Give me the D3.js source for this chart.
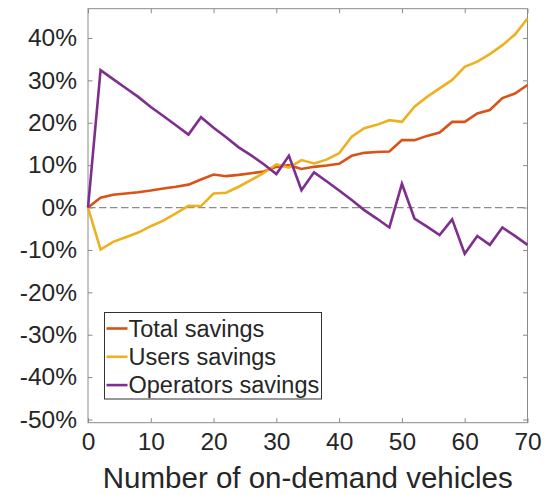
<!DOCTYPE html>
<html>
<head>
<meta charset="utf-8">
<script src="https://cdn.jsdelivr.net/npm/d3@7"></script>
<style>
  html, body { margin: 0; padding: 0; background: #fff; }
  svg { display: block; }
  text { font-family: "Liberation Sans", Arial, Helvetica, sans-serif; fill: #262626; }
</style>
</head>
<body>
<svg id="chart" width="545" height="495"></svg>
<script>
// Fleet size (number of on-demand vehicles)
const vehicles = [0, 2, 4, 6, 8, 10, 12, 14, 16, 18, 20, 22, 24, 26, 28, 30, 32, 34,
                  36, 38, 40, 42, 44, 46, 48, 50, 52, 54, 56, 58, 60, 62, 64, 66, 68, 70];

// Savings in percent
const totalSavings = [0, 2.3, 3.0, 3.3, 3.6, 4.0, 4.5, 4.9, 5.4, 6.6, 7.8, 7.4, 7.7, 8.1, 8.5, 9.6,
                      10.0, 9.1, 9.6, 9.9, 10.3, 12.2, 12.9, 13.1, 13.2, 15.9, 15.9, 16.9, 17.7, 20.2,
                      20.2, 22.2, 23.0, 25.8, 26.9, 28.9];
const usersSavings = [0, -9.9, -8.1, -7.0, -5.9, -4.4, -3.1, -1.4, 0.4, 0.35, 3.3, 3.5, 4.9, 6.5, 8.2,
                      10.2, 9.4, 11.2, 10.4, 11.3, 12.8, 16.7, 18.7, 19.5, 20.6, 20.2, 23.8, 26.1,
                      28.1, 30.1, 33.2, 34.4, 36.2, 38.3, 40.8, 44.6];
const operatorsSavings = [0, 32.4, 30.3, 28.2, 26.1, 23.7, 21.6, 19.4, 17.2, 21.3, 18.8, 16.6, 14.2,
                          12.3, 10.2, 7.9, 12.2, 4.1, 8.3, 6.2, 4.0, 1.8, -0.6, -2.6, -4.7, 5.6,
                          -2.6, -4.5, -6.5, -2.8, -10.9, -6.7, -8.8, -4.7, -6.7, -8.8];

const seriesNames = ["Total savings", "Users savings", "Operators savings"];
const seriesColors = ["#D95319", "#EDB120", "#7E2F8E"];
const seriesValues = [totalSavings, usersSavings, operatorsSavings];

const xTicks = [0, 10, 20, 30, 40, 50, 60, 70];
const yTicks = [-50, -40, -30, -20, -10, 0, 10, 20, 30, 40];
const xTitle = "Number of on-demand vehicles";

const svg = d3.select("#chart");
const plot = { left: 88, right: 527.5, top: 8.7, bottom: 422.7 };

const x = d3.scaleLinear().domain([0, 70]).range([plot.left, plot.right]);
const y = d3.scaleLinear().domain([-50.75, 46.9]).range([plot.bottom, plot.top]);

const axisColor = "#8a8a8a";
const tickLen = 4.5;
const tickFont = 24.5;

// Frame with inward ticks on all four sides
function styleAxis(g) {
  g.select(".domain").remove();
  g.selectAll(".tick line").attr("stroke", axisColor).attr("stroke-width", 1);
}

svg.append("g")
  .attr("transform", `translate(0,${plot.bottom})`)
  .call(d3.axisBottom(x).tickValues(xTicks).tickSizeInner(-tickLen).tickSizeOuter(0).tickPadding(10))
  .call(styleAxis)
  .call(g => g.selectAll(".tick text")
    .attr("font-size", tickFont).attr("fill", "#262626")
    .attr("font-family", "Liberation Sans, Arial, sans-serif"));

svg.append("g")
  .attr("transform", `translate(0,${plot.top})`)
  .call(d3.axisTop(x).tickValues(xTicks).tickSizeInner(-tickLen).tickSizeOuter(0).tickFormat(""))
  .call(styleAxis);

svg.append("g")
  .attr("transform", `translate(${plot.left},0)`)
  .call(d3.axisLeft(y).tickValues(yTicks).tickSizeInner(-tickLen).tickSizeOuter(0).tickPadding(11)
    .tickFormat(d => d + "%"))
  .call(styleAxis)
  .call(g => g.selectAll(".tick text")
    .attr("font-size", tickFont).attr("fill", "#262626")
    .attr("font-family", "Liberation Sans, Arial, sans-serif"));

svg.append("g")
  .attr("transform", `translate(${plot.right},0)`)
  .call(d3.axisRight(y).tickValues(yTicks).tickSizeInner(-tickLen).tickSizeOuter(0).tickFormat(""))
  .call(styleAxis);

svg.append("rect")
  .attr("x", plot.left).attr("y", plot.top)
  .attr("width", plot.right - plot.left).attr("height", plot.bottom - plot.top)
  .attr("fill", "none").attr("stroke", axisColor).attr("stroke-width", 1);

// Zero reference line
svg.append("line")
  .attr("x1", x(0)).attr("x2", x(70))
  .attr("y1", y(0)).attr("y2", y(0))
  .attr("stroke", "#8c8c8c").attr("stroke-width", 1.2)
  .attr("stroke-dasharray", "7.5,3.5");

// Series lines
const line = d3.line()
  .x((d, i) => x(vehicles[i]))
  .y(d => y(d));

seriesValues.forEach((vals, k) => {
  svg.append("path")
    .datum(vals)
    .attr("fill", "none")
    .attr("stroke", seriesColors[k])
    .attr("stroke-width", 2.6)
    .attr("stroke-linejoin", "miter")
    .attr("d", line);
});

// X axis title
svg.append("text")
  .attr("x", (plot.left + plot.right) / 2)
  .attr("y", 488)
  .attr("text-anchor", "middle")
  .attr("font-size", 29.5)
  .text(xTitle);

// Legend
const legend = svg.append("g").attr("transform", "translate(104.5,312.5)");
legend.append("rect")
  .attr("width", 217).attr("height", 86.5)
  .attr("fill", "#fff").attr("stroke", "#333").attr("stroke-width", 1);

seriesNames.forEach((name, k) => {
  const cy = 16 + k * 28.3;
  legend.append("line")
    .attr("x1", 2).attr("x2", 23)
    .attr("y1", cy).attr("y2", cy)
    .attr("stroke", seriesColors[k]).attr("stroke-width", 2.6);
  legend.append("text")
    .attr("x", 24).attr("y", cy)
    .attr("dy", "0.35em")
    .attr("font-size", 23.5)
    .text(name);
});
</script>
</body>
</html>
